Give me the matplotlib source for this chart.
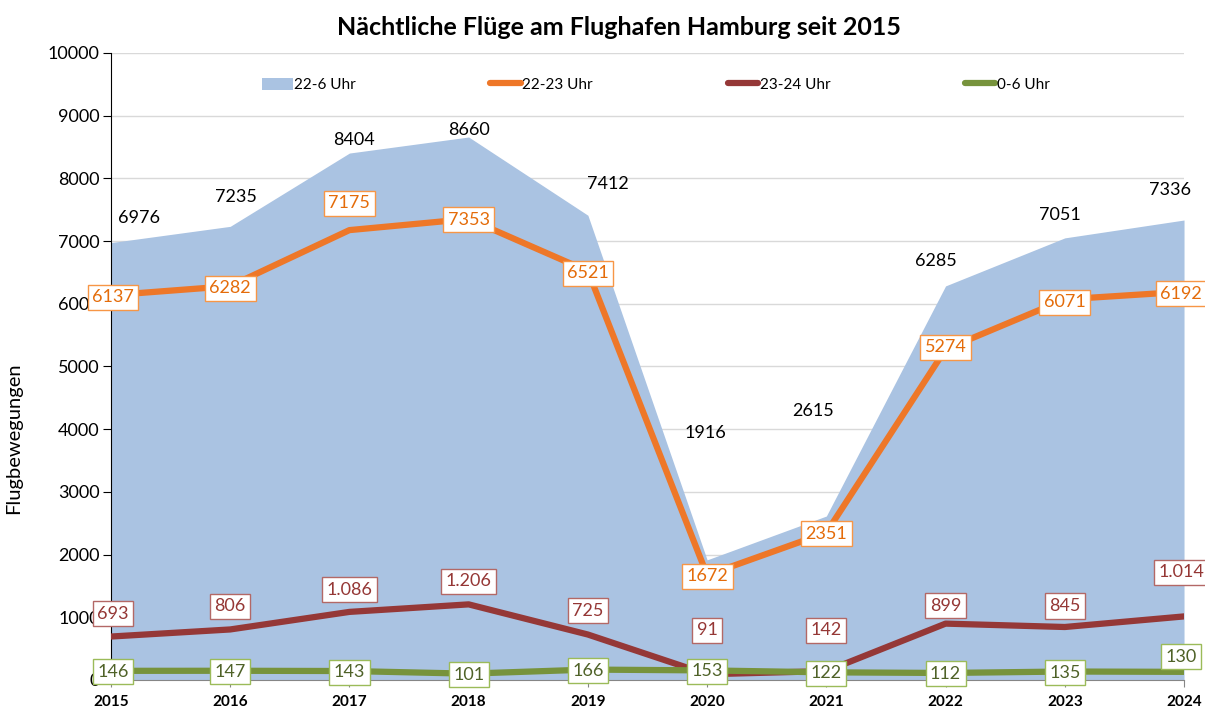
import matplotlib
matplotlib.use("Agg")
import matplotlib.pyplot as plt
from matplotlib.patches import Patch
from matplotlib.lines import Line2D

plt.rcParams['font.family'] = ['Lato', 'DejaVu Sans']

# Daten
jahre = [2015, 2016, 2017, 2018, 2019, 2020, 2021, 2022, 2023, 2024]
nacht_22_6 = [6976, 7235, 8404, 8660, 7412, 1916, 2615, 6285, 7051, 7336]
nacht_22_23 = [6137, 6282, 7175, 7353, 6521, 1672, 2351, 5274, 6071, 6192]
nacht_23_24 = [693, 806, 1086, 1206, 725, 91, 142, 899, 845, 1014]
nacht_0_6 = [146, 147, 143, 101, 166, 153, 122, 112, 135, 130]

label_23_24 = ["693", "806", "1.086", "1.206", "725", "91", "142", "899", "845", "1.014"]

# Label-Versatz in Pixeln (dx, dy)
off_area = [(28, 25), (6, 29), (5, 13), (0, 7), (20, 31), (-2, 127), (-13, 105), (-10, 25), (-5, 23), (-14, 30)]
off_orange = [(2, -2), (0, -2), (0, 27), (0, -1), (0, -2), (0, -1), (0, -1), (0, 2), (0, -3), (-3, -2)]
off_red = [(2, 23), (0, 23), (0, 22), (0, 23), (0, 24), (0, 44), (0, 41), (0, 18), (0, 21), (-3, 44)]
off_green = [(2, -1), (0, -1), (0, -1), (0, -1), (0, -1), (0, -1), (0, -1), (0, -1), (0, -1), (-3, 15)]

c_area = "#AAC3E2"
c_orange = "#EE7728"
c_red = "#953837"
c_green = "#77933C"

fig = plt.figure(figsize=(12.05, 7.13), dpi=100)
ax = fig.add_axes([0.0921, 0.0463, 0.8905, 0.8794])

ax.fill_between(jahre, nacht_22_6, 0, color=c_area, lw=0, zorder=2)
ax.plot(jahre, nacht_22_23, color=c_orange, lw=4.5, zorder=3, solid_joinstyle='round')
ax.plot(jahre, nacht_23_24, color=c_red, lw=4.5, zorder=4, solid_joinstyle='round')
ax.plot(jahre, nacht_0_6, color=c_green, lw=4.5, zorder=5, solid_joinstyle='round')

ax.set_xlim(2015, 2024)
ax.set_ylim(0, 10000)
ax.set_yticks(range(0, 10001, 1000))
ax.set_xticks(jahre)
ax.grid(axis='y', color='#D9D9D9', lw=1, zorder=1)
ax.set_axisbelow(True)

for s in ['top', 'right']:
    ax.spines[s].set_visible(False)
ax.spines['left'].set_color('black')
ax.spines['bottom'].set_color('#868686')
ax.tick_params(axis='y', labelsize=13, length=6, color='black', pad=2)
ax.tick_params(axis='x', labelsize=11, length=5, color='#868686', pad=6)
for t in ax.get_xticklabels():
    t.set_fontweight('bold')

ax.set_ylabel("Flugbewegungen", fontsize=14.5, labelpad=12)
ax.yaxis.set_label_coords(-0.083, 0.385)
fig.text(0.514, 0.962, "Nächtliche Flüge am Flughafen Hamburg seit 2015",
         ha='center', va='center', fontsize=18, fontweight='bold')


def beschriften(werte, texte, offs, farbe, rand, box=True):
    for x, y, txt, (dx, dy) in zip(jahre, werte, texte, offs):
        bbox = None
        if box:
            bbox = dict(boxstyle='square,pad=0.25', fc='white', ec=rand, lw=1)
        ax.annotate(txt, (x, y), xytext=(dx, dy), textcoords='offset pixels',
                    ha='center', va='center', fontsize=13, color=farbe,
                    bbox=bbox, zorder=10, annotation_clip=False)


beschriften(nacht_22_6, [str(v) for v in nacht_22_6], off_area, 'black', None, box=False)
beschriften(nacht_22_23, [str(v) for v in nacht_22_23], off_orange, '#E46C0A', '#F79646')
beschriften(nacht_23_24, label_23_24, off_red, '#953735', '#B36866')
beschriften(nacht_0_6, [str(v) for v in nacht_0_6], off_green, '#4F6228', '#9BBB59')

handles = [
    Patch(color=c_area, lw=0),
    Line2D([], [], color=c_orange, lw=4.5, solid_capstyle='round'),
    Line2D([], [], color=c_red, lw=4.5, solid_capstyle='round'),
    Line2D([], [], color=c_green, lw=4.5, solid_capstyle='round'),
]
ax.legend(handles, ["22-6 Uhr", "22-23 Uhr", "23-24 Uhr", "0-6 Uhr"],
          loc='center left', bbox_to_anchor=(0.128, 0.949), ncol=4, frameon=False,
          fontsize=11, handlelength=2.0, handleheight=0.9, handletextpad=0.1,
          columnspacing=8.8)

fig.savefig("out.png", dpi=100)
